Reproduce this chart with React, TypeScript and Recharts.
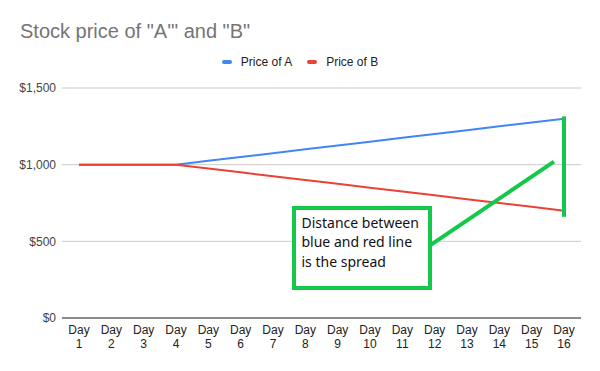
import React from "react";
import {
  LineChart,
  Line,
  XAxis,
  YAxis,
  CartesianGrid,
  Legend,
  ReferenceLine,
} from "recharts";

const days = [
  "Day 1", "Day 2", "Day 3", "Day 4", "Day 5", "Day 6", "Day 7", "Day 8",
  "Day 9", "Day 10", "Day 11", "Day 12", "Day 13", "Day 14", "Day 15", "Day 16",
];
const dayNumbers = [1, 2, 3, 4, 5, 6, 7, 8, 9, 10, 11, 12, 13, 14, 15, 16];
const priceA = [1000, 1000, 1000, 1000, 1025, 1050, 1075, 1100, 1125, 1150, 1175, 1200, 1225, 1250, 1275, 1300];
const priceB = [1000, 1000, 1000, 1000, 975, 950, 925, 900, 875, 850, 825, 800, 775, 750, 725, 700];
const yTicks = [0, 500, 1000, 1500];

// annotation (in day-number / price units)
const spreadBar = [
  { x: 16, y: 1315 },
  { x: 16, y: 660 },
];
const pointer = [
  { x: 11.88, y: 477 },
  { x: 15.69, y: 1020 },
];
const noteLines = ["Distance between", "blue and red line", "is the spread"];

const data = days.map((d, i) => ({ day: d, n: dayNumbers[i], a: priceA[i], b: priceB[i] }));

const GREEN = "#14c84a";
const FONT = "'Liberation Sans', Arial, sans-serif";

const DayTick = (props: any) => {
  const { x, y, payload } = props;
  const [w, n] = String(payload.value).split(" ");
  return (
    <g>
      <text x={x} y={y + 15.5} textAnchor="middle" fontSize={12} fill="#222" fontFamily={FONT}>
        {w}
      </text>
      <text x={x} y={y + 30} textAnchor="middle" fontSize={12} fill="#222" fontFamily={FONT}>
        {n}
      </text>
    </g>
  );
};

const LegendContent = (props: any) => {
  const { payload } = props;
  return (
    <div style={{ display: "flex", justifyContent: "center", alignItems: "center", fontFamily: FONT, fontSize: 12, color: "#222", height: 20 }}>
      {(payload || []).map((p: any, i: number) => (
        <div key={i} style={{ display: "flex", alignItems: "center", marginLeft: i === 0 ? 0 : 15 }}>
          <div style={{ width: 10, height: 4, borderRadius: 2, background: p.color, marginRight: 9 }} />
          <span>{p.value}</span>
        </div>
      ))}
    </div>
  );
};

export default function App() {
  return (
    <div style={{ position: "absolute", left: 0, top: 0, width: 600, height: 371, background: "#fff" }}>
      <div
        style={{
          position: "absolute",
          left: 20,
          top: 17,
          fontFamily: FONT,
          fontSize: 20,
          color: "#757575",
          lineHeight: "28px",
          whiteSpace: "nowrap",
        }}
      >
        Stock price of "A'" and "B"
      </div>
      <LineChart width={600} height={371} data={data} margin={{ top: 88, right: 19, bottom: 0, left: 0 }}>
        <CartesianGrid vertical={false} stroke="#ccc" />
        <XAxis
          dataKey="day"
          interval={0}
          tickSize={0}
          tickMargin={0}
          height={53}
          padding={{ left: 17, right: 17 }}
          axisLine={{ stroke: "#333" }}
          tickLine={false}
          tick={<DayTick />}
        />
        <XAxis
          xAxisId="num"
          dataKey="n"
          type="number"
          domain={[1, 16]}
          hide
          padding={{ left: 17, right: 17 }}
        />
        <YAxis
          width={62}
          domain={[0, 1500]}
          ticks={yTicks}
          axisLine={false}
          tickLine={false}
          tickSize={0}
          tickMargin={6}
          tick={{ fontSize: 12, fill: "#444", fontFamily: FONT }}
          tickFormatter={(v: number) => "$" + v.toLocaleString("en-US")}
        />
        <Legend
          verticalAlign="middle"
          layout="horizontal"
          wrapperStyle={{ top: 52, left: 0, width: 600 }}
          content={<LegendContent />}
        />
        <Line name="Price of A" dataKey="a" stroke="#4285f4" strokeWidth={2} dot={false} activeDot={false} isAnimationActive={false} />
        <Line name="Price of B" dataKey="b" stroke="#ea4335" strokeWidth={2} dot={false} activeDot={false} isAnimationActive={false} />
        <ReferenceLine xAxisId="num" segment={spreadBar} stroke={GREEN} strokeWidth={4} ifOverflow="visible" />
        <ReferenceLine xAxisId="num" segment={pointer} stroke={GREEN} strokeWidth={4} ifOverflow="visible" />
      </LineChart>
      <div
        style={{
          position: "absolute",
          left: 292,
          top: 206,
          width: 140,
          height: 84,
          boxSizing: "border-box",
          border: `4px solid ${GREEN}`,
          background: "#fff",
          padding: "3px 0 0 5.5px",
          fontFamily: "'Noto Sans', 'Open Sans', sans-serif",
          fontSize: 14,
          lineHeight: "19.3px",
          color: "#111",
          whiteSpace: "nowrap",
        }}
      >
        {noteLines.map((l, i) => (
          <div key={i}>{l}</div>
        ))}
      </div>
    </div>
  );
}
